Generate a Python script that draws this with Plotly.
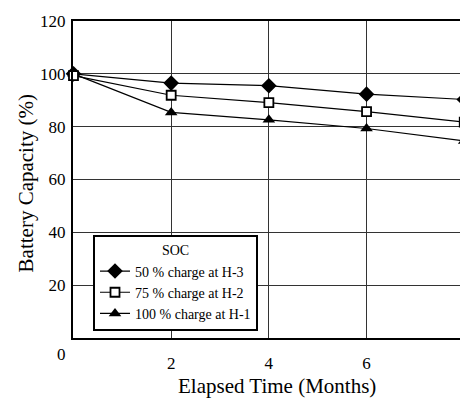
import plotly.graph_objects as go

# Elapsed storage time (months) and remaining capacity (%) per state of charge
months = [0, 2, 4, 6, 8]
soc50_h3 = [100.0, 96.5, 95.5, 92.3, 90.3]
soc75_h2 = [99.3, 91.9, 89.1, 85.7, 81.7]
soc100_h1 = [100.0, 85.4, 82.6, 79.3, 74.6]

series_names = ["50 % charge at H-3", "75 % charge at H-2", "100 % charge at H-1"]
y_ticks = [20, 40, 60, 80, 100, 120]
x_ticks = [2, 4, 6, 8]

FONT = "Liberation Serif, Times New Roman, serif"

fig = go.Figure()

styles = {
    "50": dict(symbol="diamond", size=12, color="black", line=dict(width=0)),
    "75": dict(symbol="square", size=9, color="white", line=dict(width=1.8, color="black")),
    "100": dict(symbol="triangle-up", size=11, color="black", line=dict(width=0)),
}

# Draw order puts the open squares on top; legend keeps the SOC order
for key, name, vals, rank in [
    ("50", series_names[0], soc50_h3, 1),
    ("100", series_names[2], soc100_h1, 3),
    ("75", series_names[1], soc75_h2, 2),
]:
    fig.add_trace(go.Scatter(
        x=months, y=vals, name=name, mode="lines+markers", legendrank=rank,
        line=dict(color="black", width=1.2),
        marker=styles[key], cliponaxis=False,
    ))

# The page is wider than the viewport; the right end of the axes runs off the edge
W, H = 520, 399
L, R = 73, 20
PX_PER_MONTH = 48.9
fig.update_layout(
    width=W, height=H,
    margin=dict(l=L, r=R, t=14, b=61),
    paper_bgcolor="white", plot_bgcolor="white",
    font=dict(family=FONT, color="black", size=17),
    showlegend=True,
    legend=dict(
        x=(93 - L) / (W - L - R), y=(338 - 233) / 324, xanchor="left", yanchor="top",
        bgcolor="white", bordercolor="black", borderwidth=2,
        font=dict(family=FONT, size=14, color="black"),
        title=dict(text="SOC", side="top center", font=dict(family=FONT, size=14)),
        tracegroupgap=0, itemwidth=30,
    ),
    xaxis=dict(
        range=[-0.01, (W - L - R) / PX_PER_MONTH], tickvals=x_ticks,
        ticktext=[str(v) for v in x_ticks],
        showgrid=True, gridcolor="#333", gridwidth=1,
        showline=True, linecolor="black", linewidth=2, mirror=True,
        ticks="", zeroline=False, ticklabelstandoff=9,
        tickfont=dict(family=FONT, size=17),
    ),
    yaxis=dict(
        range=[0, 120], tickvals=y_ticks, ticktext=[str(v) for v in y_ticks],
        showgrid=True, gridcolor="#333", gridwidth=1,
        showline=True, linecolor="black", linewidth=2,
        ticks="", zeroline=False, ticklabelstandoff=2,
        tickfont=dict(family=FONT, size=17),
    ),
)

def px_x(p):
    return (p - L) / (W - L - R)

def px_y(p):
    return (338 - p) / 324

# Origin label
fig.add_annotation(text="0", xref="paper", yref="paper", x=px_x(61), y=px_y(355),
                   xanchor="center", yanchor="middle", showarrow=False,
                   font=dict(family=FONT, size=17))

# Axis titles
fig.add_annotation(text="Elapsed Time (Months)", xref="paper", yref="paper",
                   x=px_x(277), y=px_y(387), xanchor="center", yanchor="middle", showarrow=False,
                   font=dict(family=FONT, size=21))
fig.add_annotation(text="Battery Capacity (%)", xref="paper", yref="paper",
                   x=px_x(26), y=px_y(180), xanchor="center", yanchor="middle", textangle=-90,
                   showarrow=False, font=dict(family=FONT, size=21))

fig.write_html(
    "out.html",
    post_script="document.documentElement.style.overflow='hidden';document.body.style.overflow='hidden';document.body.style.margin='0';",
)
